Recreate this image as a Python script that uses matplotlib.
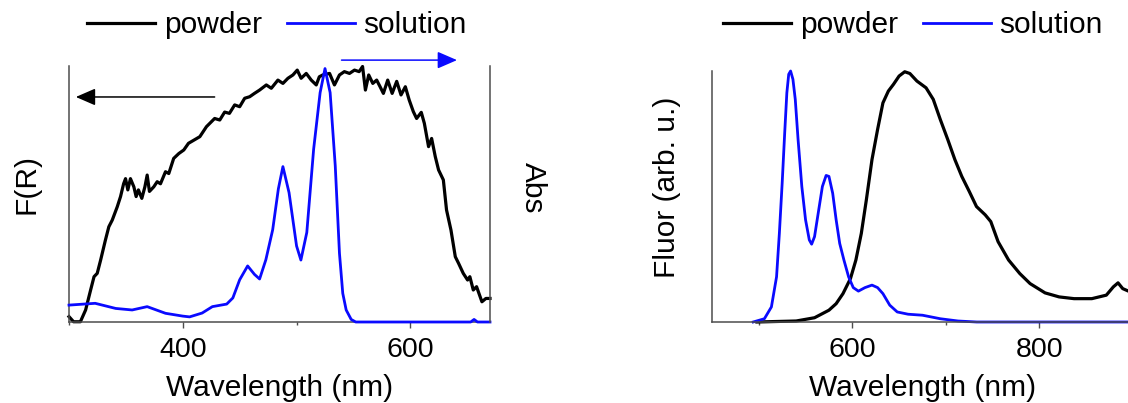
import matplotlib.pyplot as plt
from matplotlib.ticker import MultipleLocator

plt.rcParams['font.family'] = ['Liberation Sans', 'DejaVu Sans']
plt.rcParams['font.size'] = 21.5

# Diffuse reflectance of the powder, Kubelka-Munk F(R), normalised
fr_wl = [300, 304, 310, 314.6, 319, 322, 324.8, 327.8, 332, 335, 338, 342.4, 345.3,
         348, 349.7, 351.7, 354, 357, 359, 361, 364, 366.7, 368.7, 370.7, 374.5,
         377.5, 380.4, 384.8, 387.7, 392, 396.5, 400.9, 405, 415, 420.8, 428, 432.5,
         436.8, 441, 445.6, 450, 454.4, 458.8, 463, 467.5, 473.4, 477.8, 483.6, 488,
         492.4, 496.8, 500.6, 504, 508.5, 512.9, 517.3, 520, 523, 529, 533.3, 537.7,
         542, 546.5, 550.9, 555, 558, 560.5, 563.4, 567, 570.4, 573.4, 576.3, 580.1,
         584, 588, 591.8, 595.6, 599, 602.6, 605.5, 609.6, 612.3, 616, 618.7, 621.9,
         624.8, 629, 631.8, 635.7, 639.5, 642.4, 646.5, 650.3, 652.3, 655.3, 658.2,
         662.9, 666.4, 670]
fr_val = [0.021, 0.001, 0.001, 0.047, 0.125, 0.177, 0.19, 0.242, 0.32, 0.372, 0.398,
          0.45, 0.49, 0.54, 0.56, 0.516, 0.56, 0.528, 0.49, 0.516, 0.483, 0.528,
          0.574, 0.51, 0.528, 0.548, 0.54, 0.587, 0.58, 0.639, 0.658, 0.672, 0.698,
          0.724, 0.763, 0.795, 0.789, 0.82, 0.815, 0.848, 0.841, 0.874, 0.88, 0.893,
          0.906, 0.926, 0.913, 0.945, 0.932, 0.952, 0.965, 0.984, 0.952, 0.971, 0.945,
          0.926, 0.958, 0.965, 0.971, 0.926, 0.965, 0.978, 0.971, 0.984, 0.978, 0.998,
          0.906, 0.965, 0.932, 0.945, 0.919, 0.893, 0.945, 0.893, 0.94, 0.887, 0.919,
          0.867, 0.822, 0.795, 0.819, 0.776, 0.685, 0.717, 0.646, 0.594, 0.555, 0.4375,
          0.359, 0.255, 0.229, 0.19, 0.164, 0.177, 0.125, 0.138, 0.079, 0.092, 0.092]

# Absorption of the solution, normalised
abs_wl = [300, 323, 341, 355.5, 368.7, 384.8, 400, 406, 417, 426, 438.6, 444, 450,
          457, 463, 467.5, 473, 479, 484, 488, 493.4, 500, 503.8, 509, 515, 520.7,
          525, 529.5, 534, 537.7, 540.6, 543.6, 548, 552, 600, 653, 656, 659, 670]
abs_val = [0.066, 0.073, 0.053, 0.047, 0.06, 0.034, 0.023, 0.02, 0.035, 0.06, 0.07,
           0.094, 0.165, 0.219, 0.186, 0.168, 0.243, 0.36, 0.52, 0.607, 0.505, 0.297,
           0.242, 0.35, 0.675, 0.896, 0.99, 0.896, 0.61, 0.268, 0.112, 0.047, 0.01,
           0.0, 0.0, 0.0, 0.01, 0.0, 0.0]

# Fluorescence of the powder, normalised
flp_wl = [498, 540, 559.6, 575, 582.7, 590, 598, 603.8, 609.6, 615, 621, 627, 632.7,
          638.5, 644, 650, 656, 661.5, 669, 678.8, 686.5, 694, 702, 709.6, 717, 725,
          732.7, 742, 748, 755.8, 767, 779, 790, 806, 821, 837, 856, 871.5, 879, 884,
          889, 897]
flp_val = [0.0, 0.004, 0.017, 0.047, 0.073, 0.113, 0.173, 0.247, 0.353, 0.487, 0.647,
           0.767, 0.873, 0.92, 0.947, 0.98, 0.997, 0.99, 0.96, 0.933, 0.887, 0.807,
           0.727, 0.647, 0.58, 0.52, 0.46, 0.427, 0.4, 0.32, 0.247, 0.193, 0.153, 0.116,
           0.1, 0.093, 0.093, 0.107, 0.14, 0.156, 0.133, 0.12]

# Fluorescence of the solution, normalised
fls_wl = [494, 506, 513.5, 519, 522, 525, 527.7, 530, 532, 534, 536.5, 539, 542, 546,
          550, 554, 556.5, 559.6, 563.5, 568, 572, 575, 579, 582.7, 586.5, 591, 596,
          601, 606.5, 613.5, 621, 627, 632.7, 640, 648, 659.6, 675, 694, 713, 733, 900]
fls_val = [0.0, 0.013, 0.06, 0.18, 0.353, 0.553, 0.753, 0.913, 0.987, 1.0, 0.967,
           0.887, 0.727, 0.54, 0.407, 0.327, 0.31, 0.34, 0.433, 0.54, 0.584, 0.58,
           0.513, 0.407, 0.313, 0.247, 0.18, 0.137, 0.123, 0.137, 0.147, 0.137, 0.113,
           0.067, 0.04, 0.031, 0.027, 0.013, 0.004, 0.0, 0.0]

BLUE = '#0a0aff'
SPINE = '#4d4d4d'
FS = 21.5

fig = plt.figure(figsize=(11.28, 4.03), dpi=100)
ax1 = fig.add_axes([69 / 1128, 1 - 322 / 403, 421 / 1128, 256 / 403])
ax1b = ax1.twinx()
ax2 = fig.add_axes([712 / 1128, 1 - 322 / 403, 421 / 1128, 251 / 403])


def style(ax, right=False):
    for side in ('top', 'right'):
        ax.spines[side].set_visible(False)
    if right:
        ax.spines['right'].set_visible(True)
    for sp in ax.spines.values():
        sp.set_color(SPINE)
        sp.set_linewidth(1.1)
    ax.xaxis.set_major_locator(MultipleLocator(200))
    ax.xaxis.set_minor_locator(MultipleLocator(100))
    ax.tick_params(axis='x', which='major', direction='out', length=4.3, width=1.0,
                   color=SPINE, pad=6.2, labelsize=20.5)
    ax.tick_params(axis='x', which='minor', direction='out', length=2.5, width=1.0,
                   color=SPINE)
    ax.tick_params(axis='y', which='both', left=False, right=False,
                   labelleft=False, labelright=False)


style(ax1)
style(ax1b, right=True)
ax1b.spines['left'].set_visible(False)
ax1b.spines['bottom'].set_visible(False)
style(ax2)

l1, = ax1.plot(fr_wl, fr_val, color='black', lw=2.3, clip_on=False)
l2, = ax1b.plot(abs_wl, abs_val, color=BLUE, lw=2.0, clip_on=False)
ax1.set_xlim(300, 670)
ax1.set_ylim(0, 1)
ax1b.set_ylim(0, 1)

ax2.plot(flp_wl, flp_val, color='black', lw=2.3, clip_on=False)
ax2.plot(fls_wl, fls_val, color=BLUE, lw=2.0, clip_on=False)
ax2.set_xlim(450, 900)
ax2.set_ylim(0, 1)

# axis labels
ax1.set_xlabel('Wavelength (nm)', fontsize=FS, va='center')
ax1.xaxis.set_label_coords(0.501, -0.258)
ax1.set_ylabel('F(R)', fontsize=FS, va='center', ha='center')
ax1.yaxis.set_label_coords(-0.102, 0.54)
ax1b.set_ylabel('Abs', fontsize=FS, rotation=270, va='center', ha='center')
ax1b.yaxis.set_label_coords(1.102, 0.523)

ax2.set_xlabel('Wavelength (nm)', fontsize=FS, va='center')
ax2.xaxis.set_label_coords(0.501, -0.263)
ax2.set_ylabel('Fluor (arb. u.)', fontsize=FS, va='center', ha='center')
ax2.yaxis.set_label_coords(-0.107, 0.536)

# arrows pointing to the axis each curve belongs to
arrow = '-|>,head_length=0.6,head_width=0.26'
ax1.annotate('', xy=(306, 0.879), xytext=(428, 0.879),
             xycoords=('data', 'axes fraction'), textcoords=('data', 'axes fraction'),
             arrowprops=dict(arrowstyle=arrow, mutation_scale=20, color='black',
                             lw=1.1, shrinkA=0, shrinkB=0), annotation_clip=False)
ax1.annotate('', xy=(641, 1.023), xytext=(539.5, 1.023),
             xycoords=('data', 'axes fraction'), textcoords=('data', 'axes fraction'),
             arrowprops=dict(arrowstyle=arrow, mutation_scale=20, color=BLUE,
                             lw=1.1, shrinkA=0, shrinkB=0), annotation_clip=False)

# legends above each panel
leg_kw = dict(frameon=False, ncol=2, handlelength=2.27, handletextpad=0.3,
              columnspacing=0.84, fontsize=FS, loc='center',
              borderpad=0, borderaxespad=0)
fig.legend([l1, l2], ['powder', 'solution'], bbox_to_anchor=(277 / 1128, 1 - 25 / 403),
           **leg_kw)
fig.legend([l1, l2], ['powder', 'solution'], bbox_to_anchor=(913 / 1128, 1 - 25 / 403),
           **leg_kw)

fig.savefig('out.png', dpi=100)
